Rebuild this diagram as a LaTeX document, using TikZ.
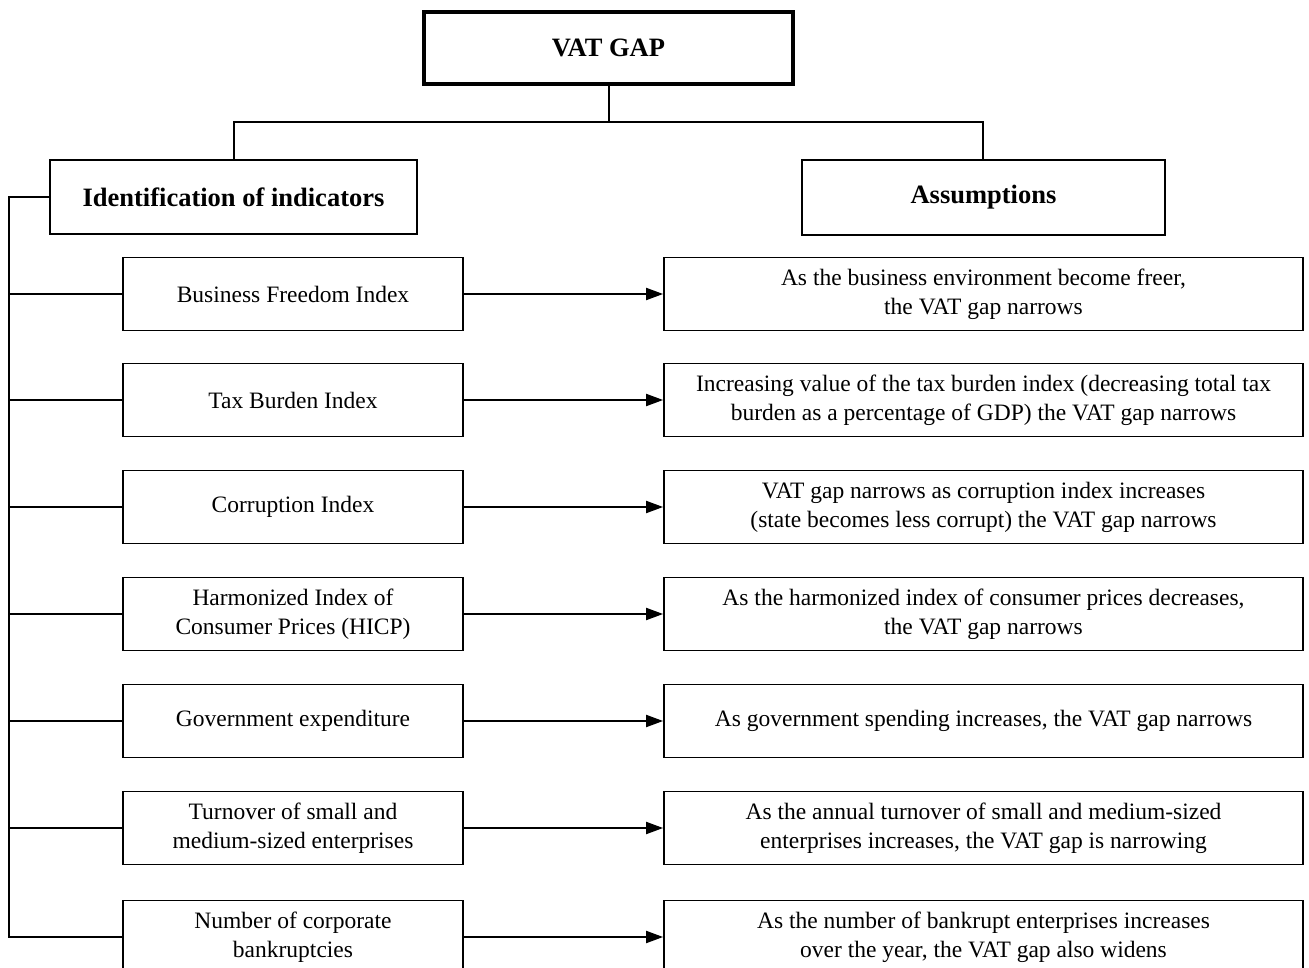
\documentclass[tikz,border=0pt]{standalone}
\usepackage{fontspec}
\setmainfont{Liberation Serif}
\usetikzlibrary{arrows.meta}
\begin{document}
\begin{tikzpicture}[x=1pt,y=-1pt,
  box/.style={draw=black,line width=1.8pt,rectangle,inner sep=0pt,align=center,
    font=\fontsize{23.5}{29}\selectfont},
  leftbox/.style={box,minimum width=340pt,minimum height=73pt},
  rightbox/.style={box,minimum width=639pt,minimum height=73pt},
  titlebox/.style={box,font=\fontsize{26.5}{32}\selectfont\bfseries},
  conn/.style={line width=2pt},
  arr/.style={conn,-{Triangle[length=17pt,width=12pt]}}]
\clip (0,0) rectangle (1309,968);
\fill[white] (0,0) rectangle (1309,968);

\node[titlebox,line width=3.5pt,minimum width=369pt,minimum height=72pt] (vat) at (608.5,48) {VAT GAP};
\node[titlebox,minimum width=367pt,minimum height=74pt] (ident) at (233.5,197) {Identification of indicators};
\node[titlebox,minimum width=363pt,minimum height=75pt] (assum) at (983.5,197.5) {\raisebox{-2pt}{Assumptions}};

\coordinate (hub) at (609,122);
\coordinate (hl) at (234,122);
\coordinate (hr) at (983,122);
\draw[conn] (vat.south -| hub) -- (hub);
\draw[conn] (ident.north -| hl) -- (hl) -- (hr) -- (assum.north -| hr);

\node[leftbox] (l1) at (293,294) {Business Freedom Index};
\node[leftbox] (l2) at (293,400) {Tax Burden Index};
\node[leftbox] (l3) at (293,507) {Corruption Index};
\node[leftbox] (l4) at (293,614) {Harmonized Index of\\Consumer Prices (HICP)};
\node[leftbox] (l5) at (293,721) {Government expenditure};
\node[leftbox] (l6) at (293,828) {Turnover of small and\\medium-sized enterprises};
\node[leftbox] (l7) at (293,937) {Number of corporate\\bankruptcies};

\node[rightbox] (r1) at (983.5,294) {As the business environment become freer,\\the VAT gap narrows};
\node[rightbox] (r2) at (983.5,400) {Increasing value of the tax burden index (decreasing total tax\\burden as a percentage of GDP) the VAT gap narrows};
\node[rightbox] (r3) at (983.5,507) {VAT gap narrows as corruption index increases\\(state becomes less corrupt) the VAT gap narrows};
\node[rightbox] (r4) at (983.5,614) {As the harmonized index of consumer prices decreases,\\the VAT gap narrows};
\node[rightbox] (r5) at (983.5,721) {As government spending increases, the VAT gap narrows};
\node[rightbox] (r6) at (983.5,828) {As the annual turnover of small and medium-sized\\enterprises increases, the VAT gap is narrowing};
\node[rightbox] (r7) at (983.5,937) {As the number of bankrupt enterprises increases\\over the year, the VAT gap also widens};

\coordinate (s0) at (9,197);
\coordinate (s7) at (9,937);
\draw[conn] (ident.west) -- (s0) -- (s7) -- (l7.west);
\foreach \i in {1,...,6} {
  \draw[conn] (s0 |- l\i.west) -- (l\i.west);
}
\foreach \i in {1,...,7} {
  \draw[arr] (l\i.east) -- (r\i.west);
}
\end{tikzpicture}
\end{document}
